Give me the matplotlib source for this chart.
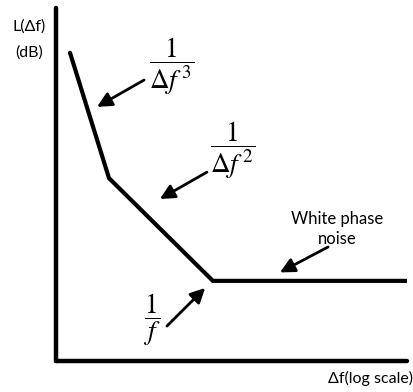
import matplotlib.pyplot as plt

plt.rcParams['font.family'] = ['Lato', 'DejaVu Sans']
plt.rcParams['mathtext.fontset'] = 'stix'

# schematic phase noise profile, axis units 0-100
x_pts = [4.0, 15.1, 44.7, 100.0]
y_pts = [87.3, 51.8, 22.7, 22.7]

# (text, text position, arrow start, arrow tip)
labels = [r'$\dfrac{1}{\Delta f^{\,3}}$', r'$\dfrac{1}{\Delta f^{\,2}}$', r'$\dfrac{1}{f}$']
label_xy = [(32.9, 83.4), (50.3, 59.8), (27.5, 11.6)]
arrow_from = [(25.1, 79.6), (43.0, 53.5), (31.6, 9.9)]
arrow_to = [(11.7, 72.0), (29.6, 45.9), (42.5, 20.7)]

fig = plt.figure(figsize=(4.14, 3.92), dpi=100)
ax = fig.add_axes([56/414, 31/392, 351/414, 353/392])
ax.set_xlim(0, 100)
ax.set_ylim(0, 100)

ax.plot(x_pts, y_pts, color='black', lw=3.0, solid_capstyle='round', solid_joinstyle='miter')

for s in ['top', 'right']:
    ax.spines[s].set_visible(False)
for s in ['left', 'bottom']:
    ax.spines[s].set_linewidth(3.2)
    ax.spines[s].set_capstyle('round')
ax.set_xticks([])
ax.set_yticks([])

for lab, xy, p0, p1 in zip(labels, label_xy, arrow_from, arrow_to):
    ax.text(xy[0], xy[1], lab, fontsize=19.5, ha='center', va='center')
    ax.annotate('', xy=p1, xytext=p0,
                arrowprops=dict(arrowstyle='-|>', color='black', lw=2.0,
                                mutation_scale=22, shrinkA=0, shrinkB=0))

ax.text(80.0, 37.5, 'White phase\nnoise', fontsize=12, ha='center', va='center',
        linespacing=1.3)
ax.annotate('', xy=(63.8, 25.1), xytext=(77.5, 32.3),
            arrowprops=dict(arrowstyle='-|>', color='black', lw=2.0,
                            mutation_scale=22, shrinkA=0, shrinkB=0))

fig.text(29/414, 1 - 27/392, 'L(\u0394f)', fontsize=11.5, ha='center', va='center')
fig.text(29/414, 1 - 53/392, '(dB)', fontsize=11.5, ha='center', va='center')
fig.text(413/414, 1 - 378/392, '\u0394f(log scale)', fontsize=11.5, ha='right', va='center')

fig.savefig('out.png', dpi=100)
